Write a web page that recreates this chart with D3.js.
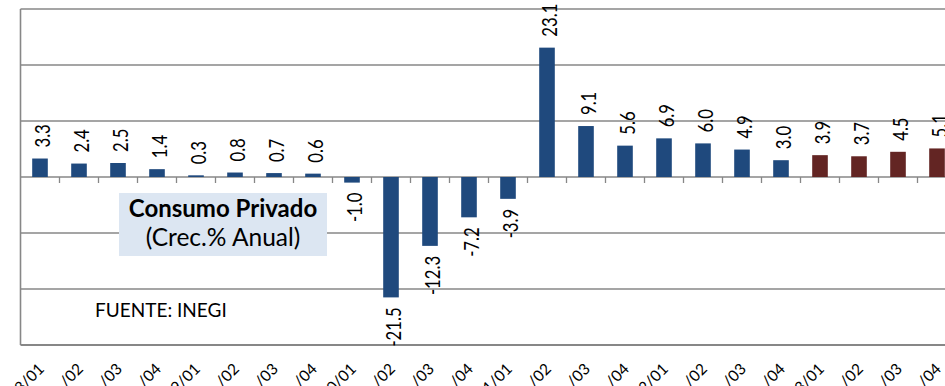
<!DOCTYPE html>
<html>
<head>
<meta charset="utf-8">
<script src="https://cdn.jsdelivr.net/npm/d3@7"></script>
<style>
  html, body { margin: 0; padding: 0; background: #fff; }
  svg { display: block; }
</style>
</head>
<body>
<svg id="chart" width="945" height="386"></svg>
<script>
// Consumo privado, crecimiento % anual por trimestre
const years = ["2018", "2019", "2020", "2021", "2022", "2023"];
const quarters = ["01", "02", "03", "04"];
const values = [
  3.3, 2.4, 2.5, 1.4,
  0.3, 0.8, 0.7, 0.6,
  -1.0, -21.5, -12.3, -7.2,
  -3.9, 23.1, 9.1, 5.6,
  6.9, 6.0, 4.9, 3.0,
  3.9, 3.7, 4.5, 5.1
];
// series: 0 = observado, 1 = periodo reciente
const seriesIndex = [
  0, 0, 0, 0,
  0, 0, 0, 0,
  0, 0, 0, 0,
  0, 0, 0, 0,
  0, 0, 0, 0,
  1, 1, 1, 1
];
const yTicks = [-30, -20, -10, 0, 10, 20, 30];
const title = "Consumo Privado";
const subtitle = "(Crec.% Anual)";
const source = "FUENTE: INEGI";

const categories = [];
years.forEach(y => quarters.forEach((q, i) => categories.push(i === 0 ? y + "/" + q : "/" + q)));
const data = categories.map((c, i) => ({ idx: i, cat: c, value: values[i], series: seriesIndex[i] }));

const colors = ["#1F497D", "#632523"];
const gridColor = "#878787";

const svg = d3.select("#chart");
const plotLeft = 20.5, plotTop = 9, plotBottom = 345;
const step = 39;

// band scale keyed by position, since quarter labels repeat
const x = d3.scaleBand()
  .domain(d3.range(categories.length))
  .range([plotLeft, plotLeft + step * categories.length])
  .paddingInner(0.6)
  .paddingOuter(0.3);

const y = d3.scaleLinear().domain([-30, 30]).range([plotBottom, plotTop]);

// horizontal grid lines and frame
svg.append("g").selectAll("line")
  .data(yTicks)
  .join("line")
  .attr("x1", plotLeft).attr("x2", 945)
  .attr("y1", d => y(d)).attr("y2", d => y(d))
  .attr("stroke", gridColor)
  .attr("stroke-width", d => (d === -30 ? 2 : 1.4));

svg.append("line")
  .attr("x1", plotLeft).attr("x2", plotLeft)
  .attr("y1", y(30)).attr("y2", y(-30))
  .attr("stroke", gridColor).attr("stroke-width", 1.6);

// category tick marks on the zero axis
const boundaries = categories.map((c, i) => plotLeft + step * (i + 1));
svg.append("g").selectAll("line")
  .data(boundaries)
  .join("line")
  .attr("x1", d => d).attr("x2", d => d)
  .attr("y1", y(0)).attr("y2", y(0) + 6)
  .attr("stroke", gridColor).attr("stroke-width", 1.3);

// bars
svg.append("g").selectAll("rect")
  .data(data)
  .join("rect")
  .attr("x", d => x(d.idx))
  .attr("width", x.bandwidth())
  .attr("y", d => y(Math.max(0, d.value)))
  .attr("height", d => Math.abs(y(d.value) - y(0)))
  .attr("fill", d => colors[d.series]);

// value labels, rotated
const labelFont = "Lato, 'Noto Sans', sans-serif";
svg.append("g").selectAll("text")
  .data(data)
  .join("text")
  .attr("transform", d => {
    const cx = x(d.idx) + x.bandwidth() / 2 + 9.5;
    const yy = d.value >= 0 ? y(d.value) - 11 : y(d.value) + 10;
    return `translate(${cx},${yy}) rotate(-90) scale(0.76,1)`;
  })
  .attr("text-anchor", d => (d.value >= 0 ? "start" : "end"))
  .attr("font-family", labelFont)
  .attr("font-size", 22)
  .attr("fill", "#000")
  .text(d => d.value.toFixed(1));

// category labels, diagonal
svg.append("g").selectAll("text")
  .data(data)
  .join("text")
  .attr("transform", d => `translate(${x(d.idx) + x.bandwidth() / 2 + 5},${370}) rotate(-45)`)
  .attr("text-anchor", "end")
  .attr("font-family", labelFont)
  .attr("font-size", 15.5)
  .attr("fill", "#000")
  .text(d => d.cat);

// title box
const box = svg.append("g");
box.append("rect")
  .attr("x", 119).attr("y", 193).attr("width", 208).attr("height", 63)
  .attr("fill", "#DCE6F2");
box.append("text")
  .attr("x", 223).attr("y", 217)
  .attr("text-anchor", "middle")
  .attr("font-family", labelFont).attr("font-weight", "bold")
  .attr("font-size", 24).attr("fill", "#000")
  .text(title);
box.append("text")
  .attr("x", 223).attr("y", 246)
  .attr("text-anchor", "middle")
  .attr("font-family", labelFont)
  .attr("font-size", 24.5).attr("fill", "#000")
  .text(subtitle);

svg.append("text")
  .attr("x", 95).attr("y", 317)
  .attr("font-family", labelFont)
  .attr("font-size", 19).attr("fill", "#000")
  .text(source);
</script>
</body>
</html>
